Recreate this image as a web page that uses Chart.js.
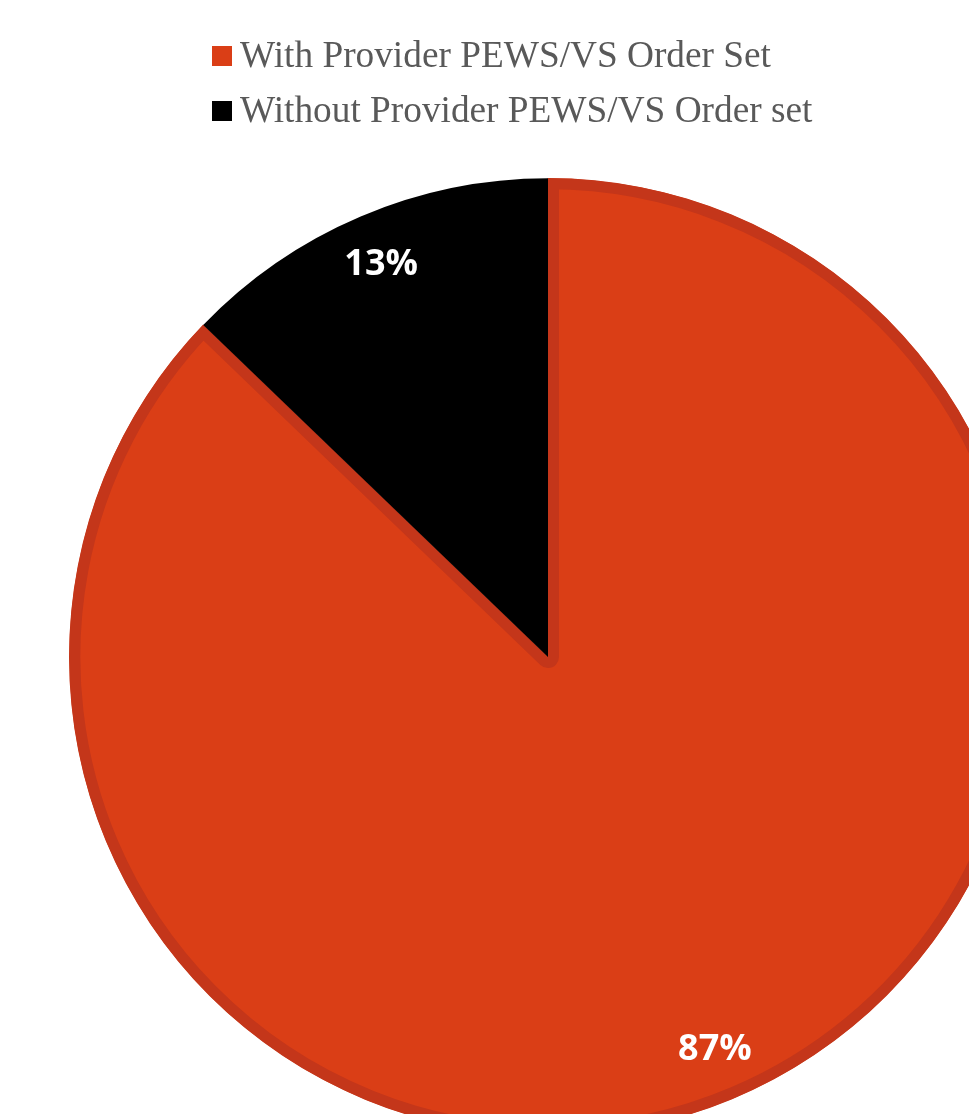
<!DOCTYPE html>
<html lang="en">

<head>
    <meta charset="UTF-8">
    <title>PEWS/VS Order Set</title>
    <style>
        html, body { margin: 0; padding: 0; background: #fff; overflow: hidden; }
        #wrap { position: absolute; left: 0; top: 0; }
    </style>
</head>

<body>

    <div id="wrap">
        <canvas id="myChart" width="1096" height="1314"></canvas>
    </div>

    <script src="https://cdn.jsdelivr.net/npm/chart.js"></script>

    <script>
        const categorias = [
            "With Provider PEWS/VS Order Set",
            "Without Provider PEWS/VS Order set"
        ];
        const porcentajes = [87.2, 12.8];
        const colores = ["#DA3E16", "#000000"];
        const bordes = ["#C4361A", "#000000"];

        // leyenda vertical, alineada a la izquierda
        const leyenda = {
            id: 'leyenda',
            afterDraw(chart) {
                const ctx = chart.ctx;
                const ds = chart.data.datasets[0];
                ctx.save();
                ctx.font = '37.3px "Liberation Serif", "Times New Roman", serif';
                ctx.textAlign = 'left';
                ctx.textBaseline = 'alphabetic';
                chart.data.labels.forEach((lab, i) => {
                    const y = 46 + i * 55;
                    ctx.fillStyle = ds.backgroundColor[i];
                    ctx.fillRect(212, y, 20, 20);
                    ctx.fillStyle = '#595959';
                    ctx.fillText(lab, 240, y + 21);
                });
                ctx.restore();
            }
        };

        // etiquetas de porcentaje dentro de cada sector
        const etiquetas = {
            id: 'etiquetas',
            afterDatasetsDraw(chart) {
                const ctx = chart.ctx;
                const meta = chart.getDatasetMeta(0);
                const vals = chart.data.datasets[0].data;
                const total = vals.reduce((a, b) => a + b, 0);
                ctx.save();
                ctx.font = 'bold 36px "Open Sans", sans-serif';
                ctx.fillStyle = '#ffffff';
                ctx.textAlign = 'center';
                ctx.textBaseline = 'middle';
                meta.data.forEach((arc, i) => {
                    const a = (arc.startAngle + arc.endAngle) / 2;
                    const r = arc.outerRadius * 0.89;
                    const x = arc.x + Math.cos(a) * r;
                    const y = arc.y + Math.sin(a) * r;
                    ctx.fillText(Math.round(vals[i] / total * 100) + '%', x, y);
                });
                ctx.restore();
            }
        };

        const ctx = document.getElementById('myChart');

        new Chart(ctx, {
            type: 'pie',
            data: {
                labels: categorias,
                datasets: [{
                    data: porcentajes,
                    backgroundColor: colores,
                    borderColor: bordes,
                    borderWidth: [11, 0],
                    borderAlign: 'inner',
                    hoverOffset: 0
                }]
            },
            options: {
                responsive: false,
                animation: false,
                events: [],
                radius: 479,
                layout: { padding: 0 },
                plugins: {
                    legend: { display: false },
                    tooltip: { enabled: false }
                }
            },
            plugins: [leyenda, etiquetas]
        });
    </script>
</body>

</html>
